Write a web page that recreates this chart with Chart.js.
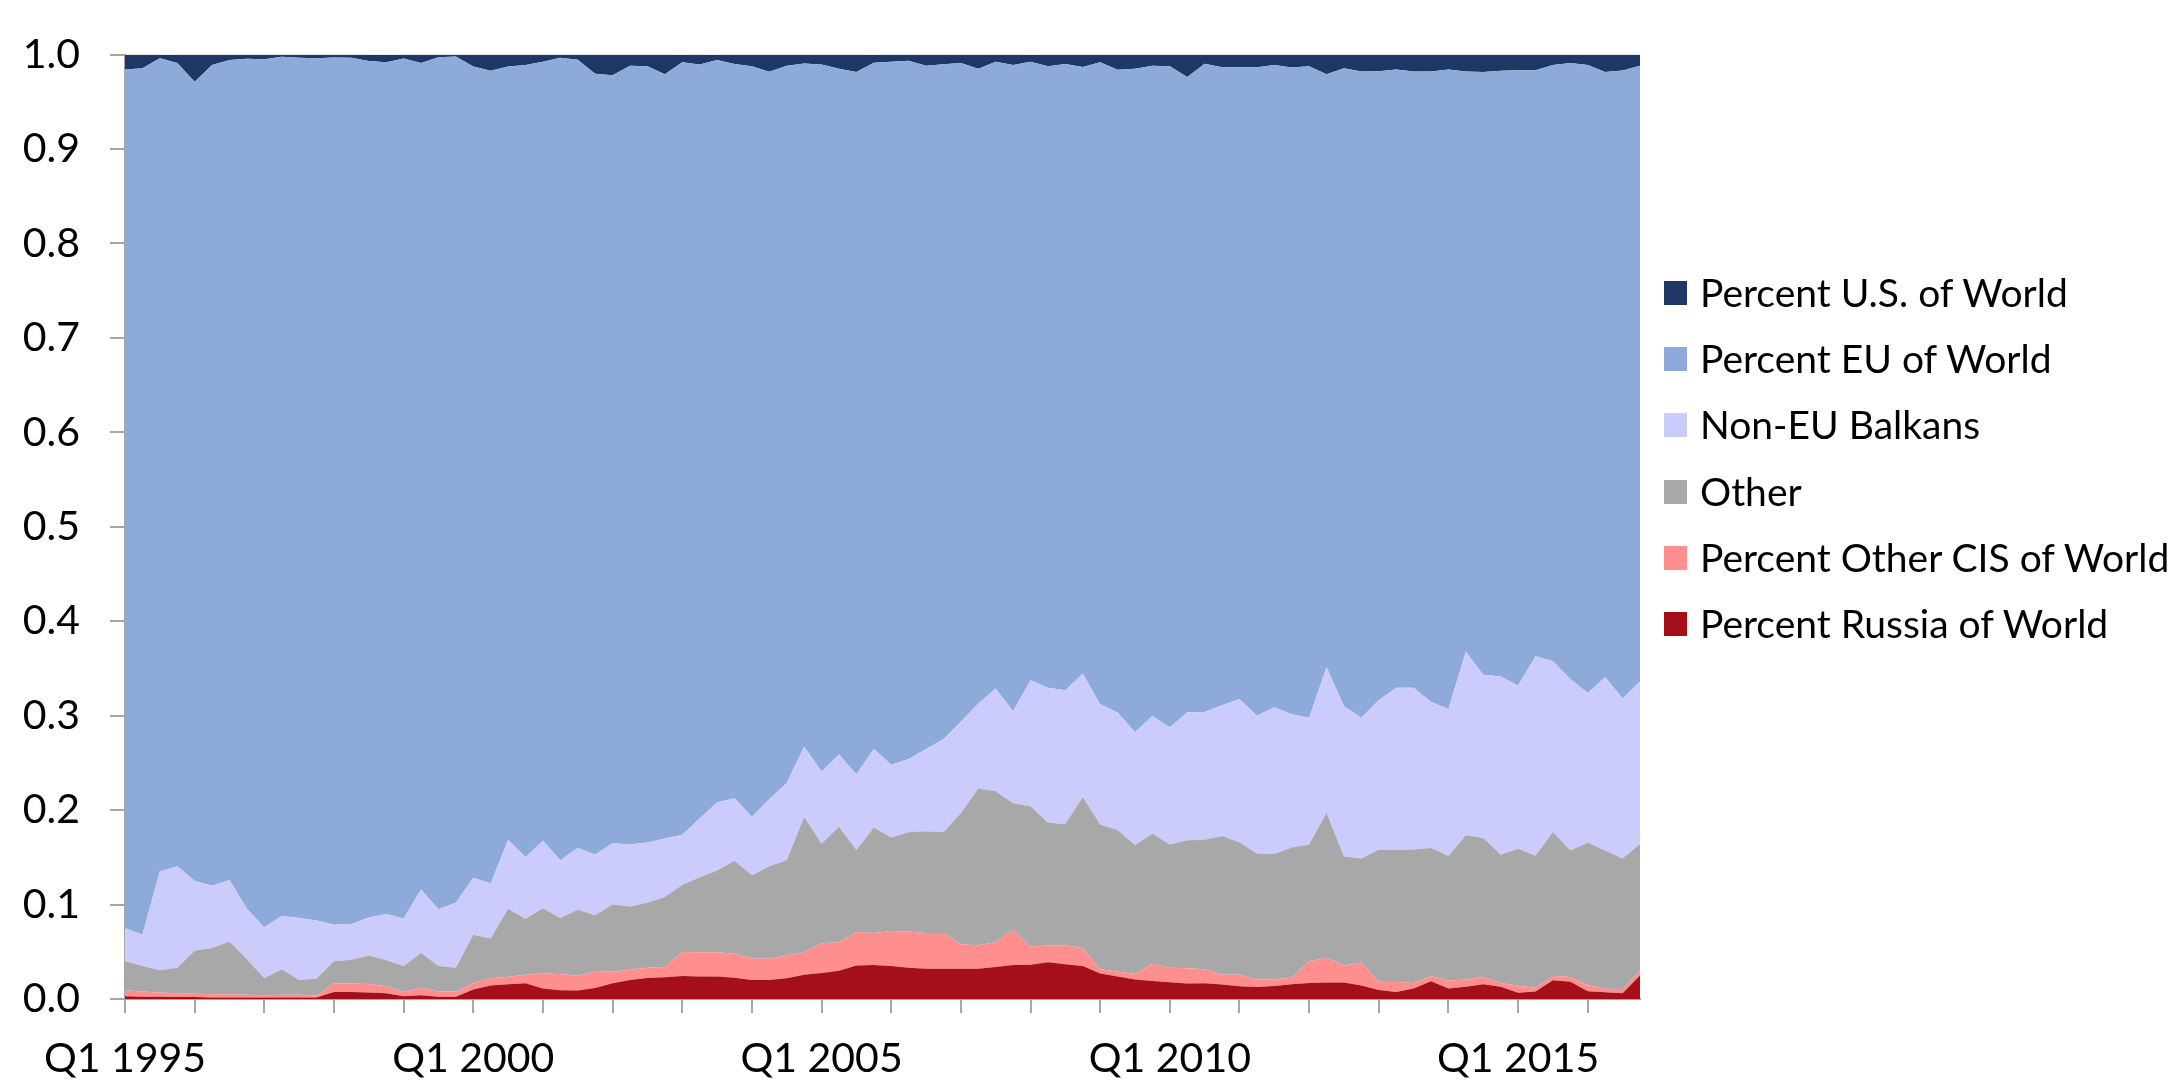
<!DOCTYPE html>
<html>
<head>
<meta charset="utf-8">
<script src="https://cdn.jsdelivr.net/npm/chart.js@4.4.1/dist/chart.umd.min.js"></script>
<style>
  html, body { margin: 0; padding: 0; background: #fff; }
  #wrap { position: relative; width: 2176px; height: 1081px; }
  #legend { position: absolute; left: 1664px; top: 0; font-family: Lato, sans-serif; font-size: 39px; color: #000; }
  .item { position: absolute; left: 0; white-space: nowrap; height: 40px; line-height: 40px; }
  .box { position: absolute; left: 0; top: 8px; width: 23px; height: 24px; box-sizing: border-box; }
  .lbl { position: absolute; left: 36px; top: -1px; }
</style>
</head>
<body>
<div id="wrap">
  <canvas id="c" width="2176" height="1081"></canvas>
  <div id="legend"></div>
</div>
<script>
// Categories (quarters Q1 1995 .. Q4 2016)
const categories = [];
for (let y = 1995; y <= 2016; y++) for (let q = 1; q <= 4; q++) categories.push('Q' + q + ' ' + y);
const tickLabels = ['Q1 1995', 'Q1 2000', 'Q1 2005', 'Q1 2010', 'Q1 2015'];

const russia = [
0.0030,0.0024,0.0024,0.0020,0.0020,0.0017,0.0017,0.0015,0.0015,0.0015,
0.0015,0.0017,0.0075,0.0075,0.0070,0.0060,0.0030,0.0040,0.0024,0.0024,
0.0100,0.0144,0.0155,0.0168,0.0110,0.0093,0.0090,0.0117,0.0168,0.0200,
0.0223,0.0230,0.0243,0.0237,0.0237,0.0226,0.0200,0.0200,0.0220,0.0257,
0.0274,0.0298,0.0356,0.0360,0.0350,0.0332,0.0320,0.0320,0.0320,0.0320,
0.0340,0.0360,0.0363,0.0390,0.0367,0.0350,0.0270,0.0237,0.0206,0.0190,
0.0178,0.0165,0.0168,0.0154,0.0134,0.0127,0.0138,0.0157,0.0169,0.0176,
0.0176,0.0142,0.0094,0.0075,0.0112,0.0187,0.0112,0.0131,0.0157,0.0131,
0.0067,0.0079,0.0198,0.0183,0.0082,0.0071,0.0060,0.0250];

const otherCIS = [
0.0063,0.0056,0.0046,0.0040,0.0035,0.0033,0.0031,0.0030,0.0026,0.0030,
0.0030,0.0021,0.0093,0.0090,0.0090,0.0074,0.0045,0.0080,0.0056,0.0056,
0.0068,0.0076,0.0080,0.0089,0.0160,0.0171,0.0157,0.0171,0.0120,0.0110,
0.0107,0.0110,0.0254,0.0257,0.0257,0.0254,0.0230,0.0225,0.0240,0.0237,
0.0316,0.0302,0.0354,0.0340,0.0370,0.0384,0.0380,0.0380,0.0260,0.0250,
0.0260,0.0377,0.0192,0.0176,0.0203,0.0188,0.0045,0.0053,0.0058,0.0184,
0.0152,0.0161,0.0147,0.0103,0.0126,0.0079,0.0072,0.0068,0.0231,0.0262,
0.0180,0.0244,0.0089,0.0105,0.0057,0.0056,0.0083,0.0075,0.0075,0.0038,
0.0072,0.0041,0.0045,0.0049,0.0064,0.0038,0.0045,0.0050];

const other = [
0.0307,0.0270,0.0235,0.0270,0.0455,0.0490,0.0562,0.0375,0.0179,0.0270,
0.0155,0.0178,0.0232,0.0250,0.0300,0.0276,0.0275,0.0367,0.0270,0.0250,
0.0512,0.0420,0.0721,0.0590,0.0690,0.0593,0.0699,0.0600,0.0712,0.0670,
0.0688,0.0740,0.0709,0.0796,0.0866,0.0984,0.0880,0.0980,0.1010,0.1432,
0.1055,0.1223,0.0867,0.1117,0.0990,0.1049,0.1076,0.1065,0.1390,0.1660,
0.1600,0.1337,0.1485,0.1299,0.1284,0.1601,0.1532,0.1500,0.1366,0.1376,
0.1305,0.1354,0.1371,0.1470,0.1400,0.1334,0.1325,0.1378,0.1236,0.1535,
0.1153,0.1101,0.1397,0.1400,0.1415,0.1357,0.1318,0.1528,0.1472,0.1359,
0.1452,0.1397,0.1528,0.1341,0.1509,0.1464,0.1382,0.1340];

const balkans = [
0.0350,0.0330,0.1045,0.1075,0.0740,0.0660,0.0650,0.0536,0.0540,0.0565,
0.0657,0.0614,0.0385,0.0380,0.0404,0.0490,0.0503,0.0673,0.0600,0.0690,
0.0605,0.0584,0.0730,0.0653,0.0716,0.0613,0.0654,0.0642,0.0650,0.0655,
0.0638,0.0620,0.0534,0.0620,0.0720,0.0661,0.0620,0.0710,0.0816,0.0744,
0.0765,0.0767,0.0803,0.0829,0.0770,0.0775,0.0870,0.0985,0.0967,0.0896,
0.1087,0.0973,0.1336,0.1432,0.1416,0.1306,0.1273,0.1243,0.1194,0.1246,
0.1241,0.1357,0.1354,0.1383,0.1517,0.1460,0.1555,0.1411,0.1341,0.1539,
0.1591,0.1490,0.1584,0.1715,0.1711,0.1545,0.1557,0.1943,0.1730,0.1887,
0.1729,0.2112,0.1805,0.1816,0.1584,0.1835,0.1696,0.1723];

const eu = [
0.9092,0.9176,0.8612,0.8506,0.8462,0.8690,0.8682,0.8999,0.9192,0.9096,
0.9109,0.9132,0.9184,0.9171,0.9067,0.9018,0.9106,0.8751,0.9023,0.8959,
0.8588,0.8605,0.8187,0.8390,0.8249,0.8496,0.8345,0.8268,0.8131,0.8248,
0.8221,0.8091,0.8178,0.7984,0.7862,0.7776,0.7947,0.7703,0.7597,0.7237,
0.7484,0.7259,0.7435,0.7269,0.7445,0.7395,0.7237,0.7147,0.6974,0.6723,
0.6638,0.6843,0.6549,0.6580,0.6631,0.6425,0.6798,0.6806,0.7025,0.6887,
0.7001,0.6726,0.6864,0.6756,0.6689,0.6866,0.6800,0.6849,0.6900,0.6279,
0.6756,0.6845,0.6661,0.6547,0.6527,0.6677,0.6772,0.6145,0.6381,0.6414,
0.6515,0.6206,0.6314,0.6522,0.6651,0.6407,0.6649,0.6520];

const us = [
0.0158,0.0144,0.0038,0.0089,0.0288,0.0110,0.0058,0.0045,0.0048,0.0024,
0.0034,0.0038,0.0031,0.0034,0.0069,0.0082,0.0041,0.0089,0.0027,0.0021,
0.0127,0.0171,0.0127,0.0110,0.0075,0.0034,0.0055,0.0202,0.0219,0.0117,
0.0123,0.0209,0.0082,0.0106,0.0058,0.0099,0.0123,0.0182,0.0117,0.0093,
0.0106,0.0151,0.0185,0.0085,0.0075,0.0065,0.0117,0.0103,0.0089,0.0151,
0.0075,0.0110,0.0075,0.0123,0.0099,0.0130,0.0082,0.0161,0.0151,0.0117,
0.0123,0.0237,0.0096,0.0134,0.0134,0.0134,0.0110,0.0137,0.0123,0.0209,
0.0144,0.0178,0.0175,0.0158,0.0178,0.0178,0.0158,0.0178,0.0185,0.0171,
0.0165,0.0165,0.0110,0.0089,0.0110,0.0185,0.0168,0.0117];

const seriesNames = ['Percent Russia of World', 'Percent Other CIS of World', 'Other', 'Non-EU Balkans', 'Percent EU of World', 'Percent U.S. of World'];
const seriesColors = ['#a50f19', '#ff8f8f', '#a8a8a8', '#cbcbfc', '#8eaadb', '#1f3763'];
const seriesData = [russia, otherCIS, other, balkans, eu, us];

const datasets = seriesData.map((d, i) => ({
  label: seriesNames[i],
  data: d,
  backgroundColor: seriesColors[i],
  borderColor: seriesColors[i],
  borderWidth: 0,
  pointRadius: 0,
  pointHoverRadius: 0,
  tension: 0,
  fill: i === 0 ? 'origin' : '-1'
}));

const axisGray = '#a6a6a6';
const font = { family: 'Lato, sans-serif', size: 41 };

new Chart(document.getElementById('c'), {
  type: 'line',
  data: { labels: categories, datasets },
  options: {
    responsive: false,
    animation: false,
    events: [],
    layout: { padding: { top: 27, right: 536, left: 0, bottom: 0 } },
    plugins: { legend: { display: false }, tooltip: { enabled: false } },
    scales: {
      x: {
        offset: false,
        afterFit: s => { s.height = 82; },
        border: { display: true, color: axisGray, width: 2 },
        grid: {
          display: true, drawOnChartArea: false, drawTicks: true, tickLength: 14,
          lineWidth: 2,
          tickColor: ctx => (ctx.index % 4 === 0 ? axisGray : 'rgba(0,0,0,0)')
        },
        ticks: {
          autoSkip: false, maxRotation: 0, minRotation: 0, padding: 21,
          color: '#000', font,
          callback: function (v, i) { const l = categories[i]; return tickLabels.includes(l) ? l : ''; }
        }
      },
      y: {
        stacked: true, min: 0, max: 1,
        afterFit: s => { s.width = 125; },
        border: { display: true, color: axisGray, width: 2 },
        grid: { display: true, drawOnChartArea: false, drawTicks: true, tickLength: 15, lineWidth: 2, tickColor: axisGray },
        ticks: { stepSize: 0.1, padding: 30, color: '#000', font, callback: v => v.toFixed(1) }
      }
    }
  }
});

// Legend (top-most series first)
const legendEl = document.getElementById('legend');
const rowCenters = [293, 359, 425, 492, 558, 624];
for (let k = 0; k < 6; k++) {
  const i = 5 - k;
  const it = document.createElement('div');
  it.className = 'item';
  it.style.top = (rowCenters[k] - 20) + 'px';
  it.innerHTML = '<div class="box" style="background:' + seriesColors[i] + '"></div><span class="lbl">' + seriesNames[i] + '</span>';
  legendEl.appendChild(it);
}
</script>
</body>
</html>
